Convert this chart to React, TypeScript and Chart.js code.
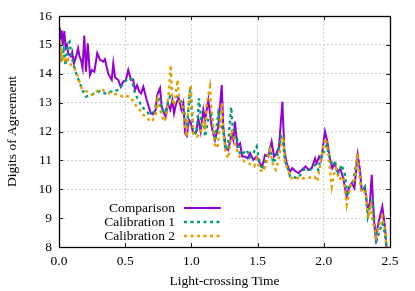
import React, { useEffect, useRef } from "react";
import { Chart, registerables } from "chart.js";

Chart.register(...registerables);

const seriesLabels = ["Comparison", "Calibration 1", "Calibration 2"];
const seriesColors = ["#9400d3", "#009e73", "#e69f00"];

const xTicks = [0, 0.5, 1.0, 1.5, 2.0, 2.5];
const yTicks = [8, 9, 10, 11, 12, 13, 14, 15, 16];

const comparison: [number, number][] = [
  [0, 15.0], [0.006, 15.6], [0.012, 15.2], [0.02, 15.5], [0.028, 15.0], [0.04, 15.48],
  [0.05, 14.9], [0.06, 15.0], [0.07, 14.7], [0.09, 14.6], [0.1, 14.75], [0.113, 14.37],
  [0.13, 14.6], [0.144, 14.88], [0.155, 14.6], [0.166, 14.48], [0.178, 14.2], [0.191, 15.32],
  [0.204, 14.07], [0.217, 15.05], [0.234, 13.96], [0.249, 14.13], [0.267, 14.07], [0.289, 14.71],
  [0.31, 14.48], [0.335, 14.42], [0.347, 14.5], [0.372, 14.0], [0.398, 13.79], [0.41, 14.36],
  [0.423, 13.88], [0.448, 13.78], [0.466, 13.55], [0.486, 13.73], [0.505, 13.78], [0.523, 14.13],
  [0.544, 13.79], [0.56, 13.8], [0.574, 13.44], [0.59, 13.6], [0.606, 13.38], [0.62, 13.32],
  [0.637, 13.55], [0.662, 13.09], [0.674, 12.92], [0.693, 12.63], [0.71, 12.6], [0.73, 12.75],
  [0.742, 13.27], [0.763, 13.5], [0.776, 12.86], [0.793, 12.63], [0.806, 12.52], [0.821, 12.98],
  [0.84, 12.75], [0.856, 13.09], [0.869, 12.63], [0.885, 12.98], [0.904, 13.15], [0.925, 12.75],
  [0.939, 12.98], [0.952, 11.94], [0.965, 11.85], [0.982, 12.4], [0.995, 12.3], [1.014, 11.94],
  [1.035, 11.97], [1.052, 12.45], [1.07, 12.0], [1.09, 12.75], [1.103, 12.4], [1.128, 13.09],
  [1.153, 12.17], [1.178, 11.71], [1.203, 12.17], [1.229, 13.61], [1.241, 12.17], [1.259, 11.42],
  [1.279, 11.36], [1.304, 11.94], [1.317, 11.71], [1.329, 12.34], [1.347, 11.48], [1.367, 11.59],
  [1.384, 11.13], [1.404, 11.13], [1.425, 11.07], [1.443, 11.25], [1.468, 11.02], [1.493, 11.13],
  [1.518, 10.9], [1.535, 10.79], [1.556, 11.19], [1.581, 11.13], [1.606, 11.65], [1.624, 11.13],
  [1.644, 11.25], [1.662, 11.48], [1.687, 13.03], [1.702, 11.36], [1.72, 10.9], [1.745, 10.61],
  [1.762, 10.73], [1.782, 10.64], [1.808, 10.56], [1.833, 10.67], [1.863, 10.79], [1.883, 10.67],
  [1.909, 10.73], [1.934, 11.07], [1.946, 10.9], [1.964, 11.13], [1.98, 11.0], [2.009, 12.0],
  [2.027, 11.65], [2.047, 11.02], [2.064, 10.73], [2.08, 10.9], [2.105, 10.61], [2.125, 10.7],
  [2.147, 10.38], [2.173, 9.75], [2.193, 10.09], [2.211, 10.21], [2.231, 10.04], [2.256, 11.19],
  [2.273, 10.67], [2.286, 9.98], [2.311, 10.04], [2.332, 9.29], [2.349, 9.57], [2.362, 10.5],
  [2.379, 8.94], [2.392, 8.3], [2.412, 8.82], [2.442, 9.4], [2.462, 8.7], [2.475, 7.9],
];

const calibration1: [number, number][] = [
  [0, 14.6], [0.01, 14.9], [0.02, 14.4], [0.035, 14.8], [0.05, 14.3], [0.065, 15.0],
  [0.08, 15.1], [0.095, 14.6], [0.107, 14.36], [0.133, 13.96], [0.158, 13.67], [0.183, 13.38],
  [0.204, 13.21], [0.23, 13.25], [0.272, 13.32], [0.31, 13.4], [0.35, 13.32], [0.385, 13.38],
  [0.425, 13.38], [0.46, 13.5], [0.486, 13.67], [0.523, 13.84], [0.55, 13.8], [0.574, 13.32],
  [0.6, 13.09], [0.625, 12.86], [0.65, 12.75], [0.674, 12.63], [0.7, 12.6], [0.72, 12.7],
  [0.738, 13.03], [0.757, 13.21], [0.775, 12.75], [0.8, 12.63], [0.815, 12.86], [0.838, 13.21],
  [0.86, 13.03], [0.888, 13.21], [0.91, 13.1], [0.93, 13.0], [0.952, 12.52], [0.965, 12.11],
  [0.99, 13.44], [1.014, 12.0], [1.04, 11.9], [1.057, 13.15], [1.078, 12.2], [1.095, 12.25],
  [1.103, 11.82], [1.128, 12.46], [1.153, 12.6], [1.178, 11.65], [1.203, 12.63], [1.22, 12.3],
  [1.241, 12.0], [1.259, 11.35], [1.279, 11.65], [1.3, 12.85], [1.31, 12.23], [1.329, 11.71],
  [1.345, 11.75], [1.367, 11.19], [1.39, 11.25], [1.418, 11.36], [1.44, 11.1], [1.468, 11.25],
  [1.493, 11.48], [1.518, 10.85], [1.543, 10.67], [1.568, 11.1], [1.594, 11.42], [1.619, 10.9],
  [1.637, 11.1], [1.656, 11.25], [1.677, 11.82], [1.69, 11.7], [1.707, 10.96], [1.725, 10.8],
  [1.745, 10.44], [1.77, 10.44], [1.795, 10.38], [1.82, 10.48], [1.845, 10.67], [1.858, 10.67],
  [1.896, 10.67], [1.934, 10.85], [1.958, 10.67], [1.984, 11.25], [2.004, 11.3], [2.022, 11.53],
  [2.034, 11.25], [2.06, 10.9], [2.085, 10.96], [2.105, 10.5], [2.135, 10.85], [2.16, 10.5],
  [2.18, 9.75], [2.2, 10.15], [2.223, 10.27], [2.248, 11.02], [2.266, 10.73], [2.286, 9.92],
  [2.311, 10.09], [2.332, 9.06], [2.349, 9.4], [2.367, 9.69], [2.382, 8.77], [2.4, 8.25],
  [2.424, 8.6], [2.442, 8.82], [2.462, 8.48], [2.475, 7.9],
];

const calibration2: [number, number][] = [
  [0, 14.4], [0.005, 15.2], [0.012, 14.4], [0.02, 14.7], [0.03, 14.5], [0.04, 14.4],
  [0.05, 14.5], [0.06, 14.4], [0.07, 14.5], [0.08, 14.4], [0.09, 14.3], [0.11, 14.25],
  [0.13, 14.07], [0.15, 13.79], [0.17, 13.5], [0.19, 13.45], [0.23, 13.32], [0.25, 13.27],
  [0.28, 13.38], [0.3, 13.44], [0.33, 13.44], [0.36, 13.35], [0.39, 13.32], [0.42, 13.3],
  [0.45, 13.27], [0.48, 13.21], [0.5, 13.25], [0.525, 13.21], [0.545, 13.1], [0.56, 13.09],
  [0.585, 12.86], [0.61, 12.75], [0.637, 12.57], [0.66, 12.52], [0.687, 12.34], [0.71, 12.4],
  [0.73, 12.6], [0.745, 13.09], [0.76, 12.8], [0.793, 12.34], [0.81, 12.5], [0.833, 13.55],
  [0.844, 14.3], [0.855, 13.2], [0.87, 12.9], [0.896, 13.79], [0.91, 13.0], [0.93, 12.9],
  [0.952, 12.17], [0.965, 11.82], [0.982, 13.21], [0.995, 13.61], [1.014, 11.94], [1.04, 11.82],
  [1.07, 11.94], [1.09, 12.4], [1.103, 12.05], [1.115, 12.98], [1.14, 13.55], [1.153, 12.6],
  [1.178, 11.54], [1.197, 11.42], [1.216, 12.17], [1.229, 13.0], [1.241, 12.0], [1.259, 11.25],
  [1.279, 11.07], [1.304, 12.05], [1.329, 11.6], [1.354, 11.19], [1.38, 11.02], [1.405, 10.96],
  [1.43, 10.9], [1.455, 10.85], [1.475, 10.79], [1.493, 11.05], [1.518, 10.67], [1.543, 10.61],
  [1.568, 10.96], [1.594, 11.36], [1.619, 10.79], [1.637, 10.67], [1.656, 10.96], [1.682, 11.65],
  [1.694, 11.82], [1.707, 10.96], [1.732, 10.61], [1.757, 10.38], [1.782, 10.44], [1.808, 10.38],
  [1.82, 10.33], [1.846, 10.38], [1.883, 10.38], [1.909, 10.44], [1.93, 10.44], [1.951, 10.27],
  [1.971, 10.79], [1.996, 11.48], [2.014, 11.77], [2.034, 11.25], [2.06, 10.09], [2.075, 10.5],
  [2.093, 10.73], [2.115, 10.33], [2.147, 10.44], [2.173, 9.46], [2.193, 9.92], [2.211, 10.27],
  [2.236, 10.33], [2.253, 11.25], [2.266, 10.67], [2.286, 9.86], [2.318, 9.92], [2.336, 9.0],
  [2.355, 9.4], [2.367, 8.94], [2.382, 8.65], [2.395, 8.35], [2.418, 8.77], [2.442, 9.06],
  [2.462, 8.6], [2.475, 7.9],
];

const FONT = "'Liberation Serif', 'Times New Roman', serif";

const legendPlugin = {
  id: "gpLegend",
  afterDatasetsDraw(chart: any) {
    const { ctx, chartArea: ca } = chart;
    ctx.save();
    ctx.fillStyle = "#ffffff";
    ctx.fillRect(ca.left + 8, ca.bottom - 45, 162, 45);
    ctx.font = `13.5px ${FONT}`;
    ctx.textAlign = "right";
    ctx.textBaseline = "middle";
    chart.data.datasets.forEach((ds: any, i: number) => {
      const y = ca.bottom - 39 + i * 14;
      ctx.fillStyle = "#000";
      ctx.fillText(ds.label, ca.left + 116, y + 0.5);
      ctx.strokeStyle = ds.borderColor;
      ctx.lineWidth = ds.borderWidth;
      ctx.setLineDash(ds.borderDash || []);
      ctx.beginPath();
      ctx.moveTo(ca.left + 125, y);
      ctx.lineTo(ca.left + 162, y);
      ctx.stroke();
    });
    ctx.restore();
  },
  afterDraw(chart: any) {
    const { ctx, chartArea: ca, scales } = chart;
    ctx.save();
    ctx.strokeStyle = "#222";
    ctx.lineWidth = 1;
    ctx.setLineDash([]);
    ctx.beginPath();
    const tl = 4;
    scales.x.ticks.forEach((t: any) => {
      const px = Math.round(scales.x.getPixelForValue(t.value)) + 0.5;
      ctx.moveTo(px, ca.bottom);
      ctx.lineTo(px, ca.bottom - tl);
      ctx.moveTo(px, ca.top);
      ctx.lineTo(px, ca.top + tl);
    });
    scales.y.ticks.forEach((t: any) => {
      const py = Math.round(scales.y.getPixelForValue(t.value)) + 0.5;
      ctx.moveTo(ca.left, py);
      ctx.lineTo(ca.left + tl, py);
      ctx.moveTo(ca.right, py);
      ctx.lineTo(ca.right - tl, py);
    });
    ctx.stroke();
    ctx.strokeStyle = "#000";
    ctx.lineWidth = 1.3;
    ctx.strokeRect(ca.left + 0.5, ca.top + 0.5, ca.right - ca.left, ca.bottom - ca.top);
    ctx.restore();
  },
};

export default function App() {
  const ref = useRef<HTMLCanvasElement | null>(null);
  useEffect(() => {
    document.body.style.margin = "0";
    const canvas = ref.current!;
    const series = [comparison, calibration1, calibration2];
    const chart = new Chart(canvas, {
      type: "line",
      data: {
        datasets: series.map((s, i) => ({
          label: seriesLabels[i],
          data: s.map(([x, y]) => ({ x, y })),
          borderColor: seriesColors[i],
          backgroundColor: seriesColors[i],
          borderWidth: i === 0 ? 2 : 2.4,
          borderDash: i === 0 ? [] : [3, 3.5],
          pointRadius: 0,
          tension: 0,
          fill: false,
          order: 2 - i,
        })),
      },
      options: {
        animation: false,
        responsive: false,
        devicePixelRatio: 1,
        layout: { padding: { top: 16, right: 25, left: 0, bottom: 0 } },
        plugins: { legend: { display: false }, tooltip: { enabled: false } },
        scales: {
          x: {
            type: "linear",
            min: 0,
            max: 2.5,
            afterBuildTicks: (s: any) => {
              s.ticks = xTicks.map((v) => ({ value: v }));
            },
            afterFit: (s: any) => {
              s.height = 44;
            },
            ticks: {
              color: "#000",
              font: { family: FONT, size: 13.5 },
              padding: 6,
              maxRotation: 0,
              callback: (v: any) => Number(v).toFixed(1),
            },
            grid: { color: "#d0d0d0", lineWidth: 1, drawTicks: false },
            border: { display: false, dash: [2, 2] },
            title: {
              display: true,
              text: "Light-crossing Time",
              color: "#000",
              font: { family: FONT, size: 13.5, lineHeight: 1.2 },
              padding: { top: 0, bottom: 1 },
            },
          },
          y: {
            type: "linear",
            min: 8,
            max: 16,
            afterBuildTicks: (s: any) => {
              s.ticks = yTicks.map((v) => ({ value: v }));
            },
            afterFit: (s: any) => {
              s.width = 59;
            },
            ticks: {
              color: "#000",
              font: { family: FONT, size: 13.5 },
              padding: 7,
            },
            grid: { color: "#d0d0d0", lineWidth: 1, drawTicks: false },
            border: { display: false, dash: [2, 2] },
            title: {
              display: true,
              text: "Digits of Agreement",
              color: "#000",
              font: { family: FONT, size: 13.5, lineHeight: 1.2 },
              padding: { top: 4, bottom: 0 },
            },
          },
        },
      },
      plugins: [legendPlugin],
    });
    return () => chart.destroy();
  }, []);
  return <canvas ref={ref} width={415} height={291} style={{ display: "block", width: 415, height: 291 }} />;
}
